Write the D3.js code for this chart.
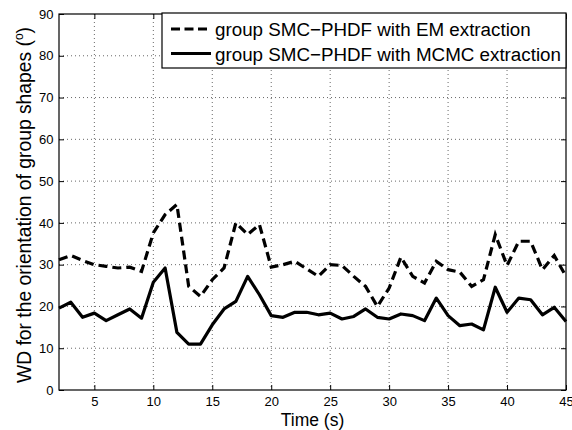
<!DOCTYPE html>
<html>
<head>
<meta charset="utf-8">
<script src="https://cdn.jsdelivr.net/npm/d3@7"></script>
<style>
  body { margin: 0; background: #fff; }
  text { font-family: "Liberation Sans", Arial, sans-serif; fill: #000; }
</style>
</head>
<body>
<script>
let w = 572;
let h = 430;

// plot area
let plotLeft = 59, plotRight = 566, plotTop = 14, plotBottom = 390;

// data
const times = d3.range(2, 46);
const emValues = [31.2, 32.2, 31, 30, 29.6, 29.2, 29.4, 28.4, 37.6, 42, 44.4, 24.8, 22.4, 26.4, 29.2, 40, 37.2, 39.6, 29.4, 30, 30.8, 29,
                  27.2, 30, 29.8, 27.2, 24.8, 20, 24.4, 31.8, 27.2, 25.6, 30.8, 28.8, 28.2, 24.8, 26.4, 37.2, 29.8, 35.6, 35.6, 28.8, 32.2, 27.2];
const mcmcValues = [19.6, 21, 17.4, 18.4, 16.6, 18, 19.4, 17.2, 25.8, 29.2, 13.8, 11, 11, 15.6, 19.4, 21.2, 27.2, 22.8, 17.8, 17.4, 18.6, 18.6,
                    18, 18.4, 17, 17.6, 19.4, 17.4, 17, 18.2, 17.8, 16.6, 22, 17.8, 15.4, 15.8, 14.4, 24.6, 18.6, 22, 21.6, 18, 19.8, 16.4];
const xTicks = [5, 10, 15, 20, 25, 30, 35, 40, 45];
const yTicks = [0, 10, 20, 30, 40, 50, 60, 70, 80, 90];
const seriesNames = ["group SMC\u2212PHDF with EM extraction", "group SMC\u2212PHDF with MCMC extraction"];

let svg = d3.select("body")
            .append("svg")
            .attr("width", w)
            .attr("height", h);

let x = d3.scaleLinear([2, 45], [plotLeft, plotRight]);
let y = d3.scaleLinear([0, 90], [plotBottom, plotTop]);

// grid
let grid = svg.append("g").attr("stroke", "#000").attr("stroke-width", 0.6).attr("stroke-dasharray", "1,3");
grid.selectAll(".gx")
    .data(xTicks.filter(d => d < 45))
    .enter().append("line")
    .attr("x1", d => x(d)).attr("x2", d => x(d))
    .attr("y1", plotTop).attr("y2", plotBottom);
grid.selectAll(".gy")
    .data(yTicks.filter(d => d > 0 && d < 90))
    .enter().append("line")
    .attr("x1", plotLeft).attr("x2", plotRight)
    .attr("y1", d => y(d)).attr("y2", d => y(d));

// axes with inward ticks
let xAxis = d3.axisBottom(x).tickValues(xTicks).tickSizeInner(-5).tickSizeOuter(0).tickPadding(7);
let yAxis = d3.axisLeft(y).tickValues(yTicks).tickSizeInner(-5).tickSizeOuter(0).tickPadding(5.5);

let gx = svg.append("g").attr("transform", `translate(0,${plotBottom})`).call(xAxis);
let gy = svg.append("g").attr("transform", `translate(${plotLeft},0)`).call(yAxis);
svg.append("g").attr("transform", `translate(0,${plotTop})`)
   .call(d3.axisTop(x).tickValues(xTicks).tickSizeInner(-5).tickSizeOuter(0).tickFormat(""));
svg.append("g").attr("transform", `translate(${plotRight},0)`)
   .call(d3.axisRight(y).tickValues(yTicks).tickSizeInner(-5).tickSizeOuter(0).tickFormat(""));

svg.selectAll(".domain").remove();
svg.selectAll(".tick line").attr("stroke", "#000");
svg.selectAll(".tick text").style("font-size", "13px").attr("fill", "#000");

// box
svg.append("rect")
   .attr("x", plotLeft).attr("y", plotTop)
   .attr("width", plotRight - plotLeft).attr("height", plotBottom - plotTop)
   .attr("fill", "none").attr("stroke", "#000").attr("stroke-width", 1.2);

// lines
let line = d3.line().x((d, i) => x(times[i])).y(d => y(d));
svg.append("path")
   .datum(emValues)
   .attr("d", line)
   .attr("fill", "none").attr("stroke", "#000").attr("stroke-width", 3.2)
   .attr("stroke-dasharray", "9,5");
svg.append("path")
   .datum(mcmcValues)
   .attr("d", line)
   .attr("fill", "none").attr("stroke", "#000").attr("stroke-width", 3.2)
   .attr("stroke-linejoin", "round");

// axis labels
svg.append("text")
   .attr("x", (plotLeft + plotRight) / 2).attr("y", 426)
   .attr("text-anchor", "middle")
   .style("font-size", "17.5px")
   .text("Time (s)");
let yl = svg.append("text")
   .attr("transform", `translate(31,205) rotate(-90)`)
   .attr("text-anchor", "middle")
   .style("font-size", "19.3px");
yl.append("tspan").text("WD for the orientation of group shapes (");
yl.append("tspan").text("o").attr("dy", -8).style("font-size", "12px");
yl.append("tspan").text(")").attr("dy", 8);

// legend
let legend = svg.append("g").attr("id", "legend");
legend.append("rect")
      .attr("x", 162).attr("y", 13)
      .attr("width", plotRight - 162).attr("height", 55)
      .attr("fill", "#fff").attr("stroke", "#000").attr("stroke-width", 1.2);
seriesNames.forEach((name, i) => {
   let ly = 29 + i * 24.5;
   legend.append("line")
         .attr("x1", 171).attr("x2", 211)
         .attr("y1", ly).attr("y2", ly)
         .attr("stroke", "#000").attr("stroke-width", 3.2)
         .attr("stroke-dasharray", i == 0 ? "9,4.5" : null);
   legend.append("text")
         .attr("x", 215).attr("y", ly + 7)
         .style("font-size", "18.8px")
         .text(name);
});
</script>
</body>
</html>
